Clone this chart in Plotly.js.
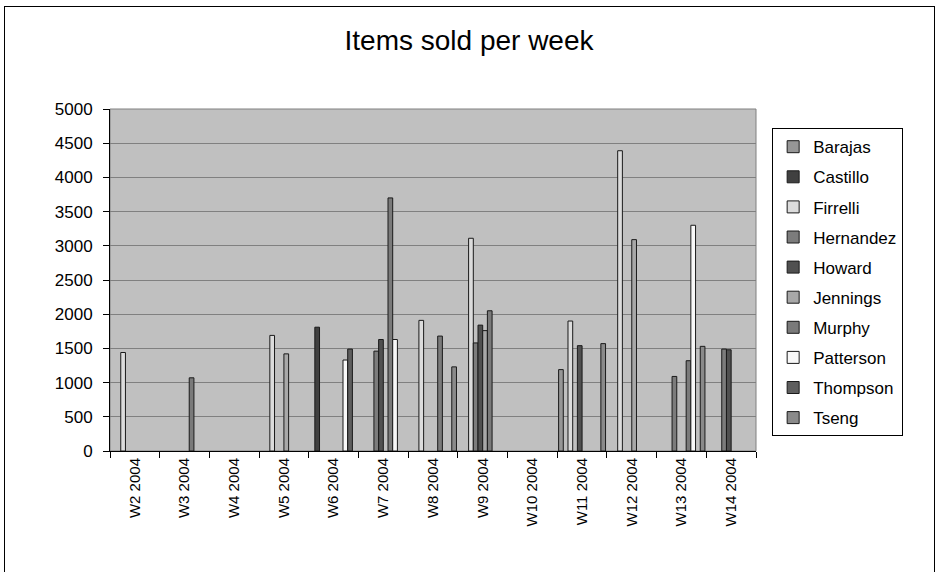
<!DOCTYPE html>
<html>
<head>
<meta charset="utf-8">
<script src="https://cdn.plot.ly/plotly-3.0.1.min.js"></script>
<style>
  html, body { margin: 0; padding: 0; background: #fff; }
  #wrap { position: relative; width: 938px; height: 572px; overflow: hidden; }
  #chart { position: absolute; left: 0; top: 0; width: 938px; height: 572px; }
  #frame { position: absolute; left: 4px; top: 6px; width: 929px; height: 600px; border: 1px solid #000; pointer-events: none; }
</style>
</head>
<body>
<div id="wrap">
  <div id="chart"></div>
  <div id="frame"></div>
</div>
<script>
// Categories (weeks)
const weeks = ["W2 2004","W3 2004","W4 2004","W5 2004","W6 2004","W7 2004","W8 2004","W9 2004","W10 2004","W11 2004","W12 2004","W13 2004","W14 2004"];

// Series values (null = no sales that week)
const barajas   = [null, null, null, null, null, null, null, null, null, 1190, null, null, null];
const castillo  = [null, null, null, null, 1810, null, null, null, null, null, null, null, null];
const firrelli  = [1440, null, null, 1690, null, null, 1910, 3110, null, 1900, 4390, null, null];
const hernandez = [null, null, null, null, null, 1460, null, 1580, null, null, null, 1090, 1490];
const howard    = [null, null, null, null, null, 1630, null, 1840, null, 1540, null, null, 1480];
const jennings  = [null, null, null, 1420, null, null, null, 1760, null, null, 3090, null, null];
const murphy    = [null, 1070, null, null, null, 3700, 1680, 2050, null, null, null, 1320, null];
const patterson = [null, null, null, null, 1330, 1630, null, null, null, null, null, 3300, null];
const thompson  = [null, null, null, null, 1490, null, null, null, null, null, null, null, null];
const tseng     = [null, null, null, null, null, null, 1230, null, null, 1570, null, 1530, null];

const seriesNames = ["Barajas","Castillo","Firrelli","Hernandez","Howard","Jennings","Murphy","Patterson","Thompson","Tseng"];
const seriesValues = [barajas, castillo, firrelli, hernandez, howard, jennings, murphy, patterson, thompson, tseng];
const seriesColors = ["#969696","#404040","#dcdcdc","#7c7c7c","#505050","#a8a8a8","#7a7a7a","#f8f8f8","#5e5e5e","#8a8a8a"];

const yTicks = [0,500,1000,1500,2000,2500,3000,3500,4000,4500,5000];

const traces = seriesNames.map((name, i) => ({
  type: 'bar',
  name: name,
  x: weeks,
  y: seriesValues[i],
  legendgroup: name,
  marker: { color: seriesColors[i], line: { color: '#1a1a1a', width: 1 } },
  hoverinfo: 'x+y+name'
}));

const layout = {
  width: 938,
  height: 572,
  paper_bgcolor: 'rgba(0,0,0,0)',
  plot_bgcolor: '#c0c0c0',
  margin: { l: 110, r: 182, t: 109, b: 121, pad: 0 },
  barmode: 'group',
  bargap: 0.055,
  bargroupgap: 0,
  font: { family: 'Liberation Sans, Arial, sans-serif', color: '#000', size: 15 },
  title: {
    text: 'Items sold per week',
    font: { size: 28, family: 'Liberation Sans, Arial, sans-serif', color: '#000' },
    x: 0.5, xref: 'container', xanchor: 'center',
    y: 0.93, yref: 'container', yanchor: 'middle'
  },
  xaxis: {
    type: 'category',
    showgrid: false,
    showline: true, linecolor: '#000', linewidth: 1,
    ticks: 'outside', tickson: 'boundaries', ticklen: 6, tickcolor: '#000',
    tickangle: -90,
    tickfont: { size: 15 },
    fixedrange: true
  },
  yaxis: {
    range: [0, 5000],
    tickvals: yTicks,
    showgrid: true, gridcolor: '#808080', gridwidth: 1,
    showline: true, linecolor: '#000', linewidth: 1,
    ticks: 'outside', ticklen: 6, tickcolor: '#000',
    ticklabelstandoff: 7,
    tickfont: { size: 17 },
    zeroline: false,
    fixedrange: true
  },
  legend: {
    x: 1.025, xanchor: 'left',
    y: 0.944, yanchor: 'top',
    bgcolor: '#fff',
    bordercolor: '#000', borderwidth: 1,
    font: { size: 17 },
    tracegroupgap: 5,
    traceorder: 'grouped'
  },
  shapes: [
    { type: 'rect', xref: 'paper', yref: 'paper', x0: 0, x1: 1, y0: 0, y1: 1,
      line: { color: '#808080', width: 1 }, layer: 'below' }
  ]
};

Plotly.newPlot('chart', traces, layout, { displayModeBar: false, staticPlot: true });
</script>
</body>
</html>
